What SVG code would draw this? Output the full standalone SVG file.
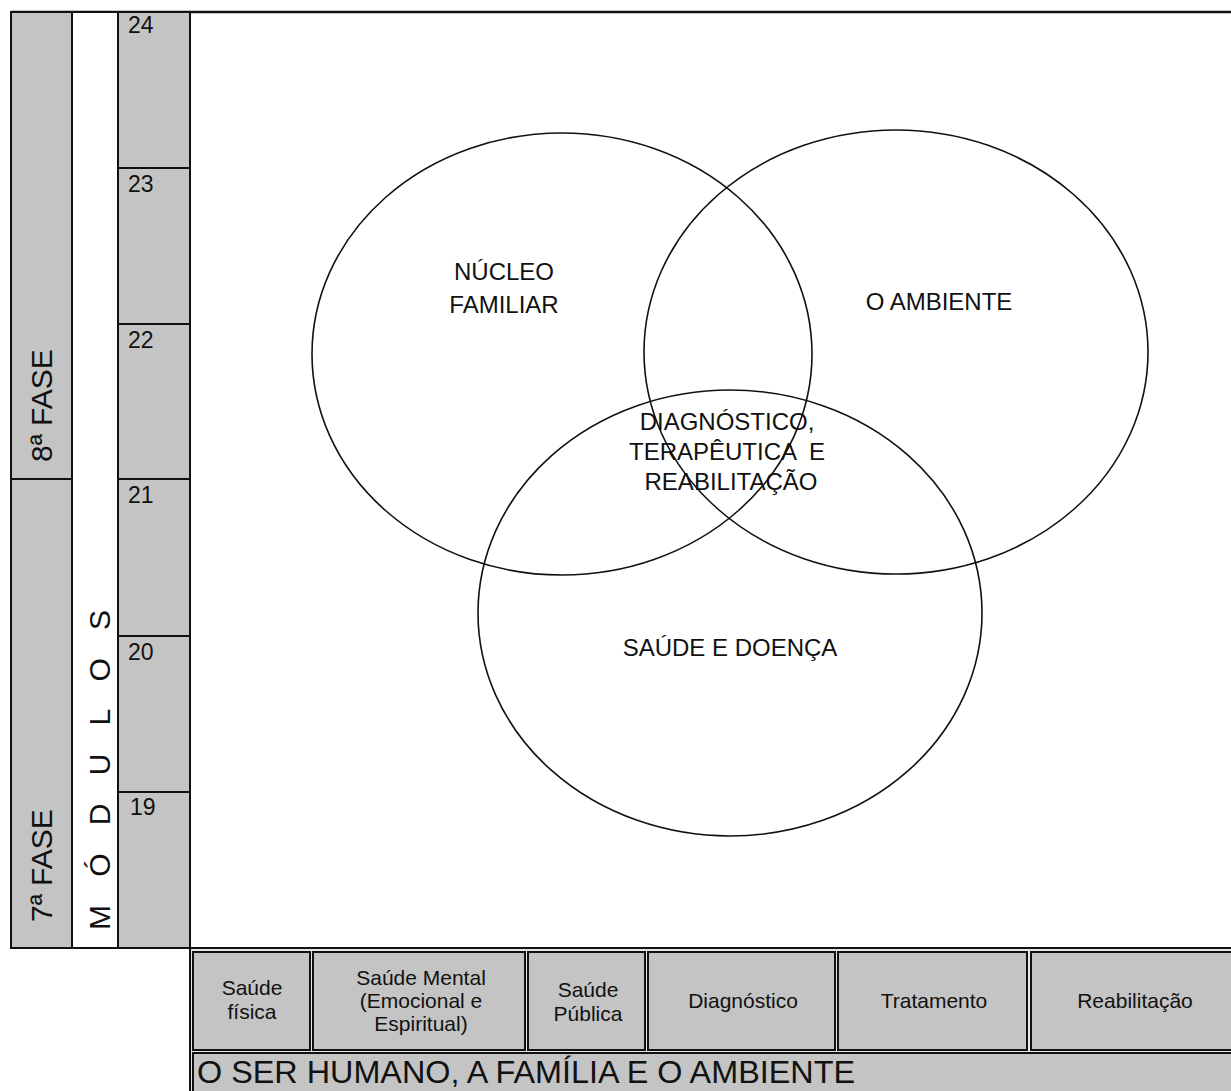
<svg xmlns="http://www.w3.org/2000/svg" width="1231" height="1091" viewBox="0 0 1231 1091">
<style>
text{font-family:"Liberation Sans",Arial,sans-serif;fill:#111}
.g{fill:#c4c4c4;stroke:#111;stroke-width:2}
.w{fill:#fff;stroke:#111;stroke-width:2}
.c{fill:none;stroke:#111;stroke-width:1.6}
.num{font-size:23px}
.lab{font-size:24px;text-anchor:middle}
.box{font-size:21px;text-anchor:middle}
.vert{font-size:30px}
</style>
<rect x="0" y="0" width="1231" height="1091" fill="#fff"/>
<g id="frame">
<line x1="11" y1="12" x2="1231" y2="12" stroke="#111" stroke-width="2.5"/>
</g>
<g id="fase-column">
<rect class="g" x="11" y="12" width="61" height="467"/>
<rect class="g" x="11" y="479" width="61" height="469"/>
<text class="vert" transform="translate(52,462) rotate(-90)">8ª FASE</text>
<text class="vert" transform="translate(52,922) rotate(-90)">7ª FASE</text>
</g>
<g id="modulos-column">
<rect class="w" x="72" y="12" width="46" height="936"/>
<text font-size="30" textLength="320" lengthAdjust="spacing" transform="translate(110,930) rotate(-90)">M Ó D U L O S</text>
</g>
<g id="numbers-column">
<rect class="g" x="118" y="12" width="72" height="156"/>
<rect class="g" x="118" y="168" width="72" height="156"/>
<rect class="g" x="118" y="324" width="72" height="155"/>
<rect class="g" x="118" y="479" width="72" height="157"/>
<rect class="g" x="118" y="636" width="72" height="156"/>
<rect class="g" x="118" y="792" width="72" height="156"/>
<text class="num" x="128" y="33">24</text>
<text class="num" x="128" y="192">23</text>
<text class="num" x="128" y="348">22</text>
<text class="num" x="128" y="503">21</text>
<text class="num" x="128" y="660">20</text>
<text class="num" x="130" y="815">19</text>
</g>
<g id="nucleo-familiar">
<ellipse class="c" cx="562" cy="354" rx="250" ry="221"/>
<text class="lab" x="504" y="280">NÚCLEO</text>
<text class="lab" x="504" y="313">FAMILIAR</text>
</g>
<g id="o-ambiente">
<ellipse class="c" cx="896" cy="352" rx="252" ry="222"/>
<text class="lab" x="939" y="310">O AMBIENTE</text>
</g>
<g id="saude-doenca">
<ellipse class="c" cx="730" cy="613" rx="252" ry="223"/>
<text class="lab" x="730" y="656">SAÚDE E DOENÇA</text>
</g>
<g id="diagnostico-terapeutica">
<text class="lab" x="727" y="430">DIAGNÓSTICO,</text>
<text class="lab" x="727" y="460" xml:space="preserve">TERAPÊUTICA  E</text>
<text class="lab" x="731" y="490">REABILITAÇÃO</text>
</g>
<g id="bottom-panel">
<rect x="190" y="948" width="1050" height="150" fill="#e6e6e6" stroke="#111" stroke-width="2"/>
</g>
<g id="box-saude-fisica">
<rect class="g" x="193" y="952" width="117" height="98"/>
<text class="box" x="252" y="995">Saúde</text>
<text class="box" x="252" y="1019">física</text>
</g>
<g id="box-saude-mental">
<rect class="g" x="313" y="952" width="212" height="98"/>
<text class="box" x="421" y="985">Saúde Mental</text>
<text class="box" x="421" y="1008">(Emocional e</text>
<text class="box" x="421" y="1031">Espiritual)</text>
</g>
<g id="box-saude-publica">
<rect class="g" x="528" y="952" width="117" height="98"/>
<text class="box" x="588" y="997">Saúde</text>
<text class="box" x="588" y="1021">Pública</text>
</g>
<g id="box-diagnostico">
<rect class="g" x="648" y="952" width="187" height="98"/>
<text class="box" x="743" y="1008">Diagnóstico</text>
</g>
<g id="box-tratamento">
<rect class="g" x="838" y="952" width="189" height="98"/>
<text class="box" x="934" y="1008">Tratamento</text>
</g>
<g id="box-reabilitacao">
<rect class="g" x="1031" y="952" width="210" height="98"/>
<text class="box" x="1135" y="1008">Reabilitação</text>
</g>
<g id="title-strip">
<rect class="g" x="193" y="1053" width="1048" height="45"/>
<text x="197" y="1083" font-size="32" textLength="658" lengthAdjust="spacingAndGlyphs">O SER HUMANO, A FAMÍLIA E O AMBIENTE</text>
</g>
</svg>
